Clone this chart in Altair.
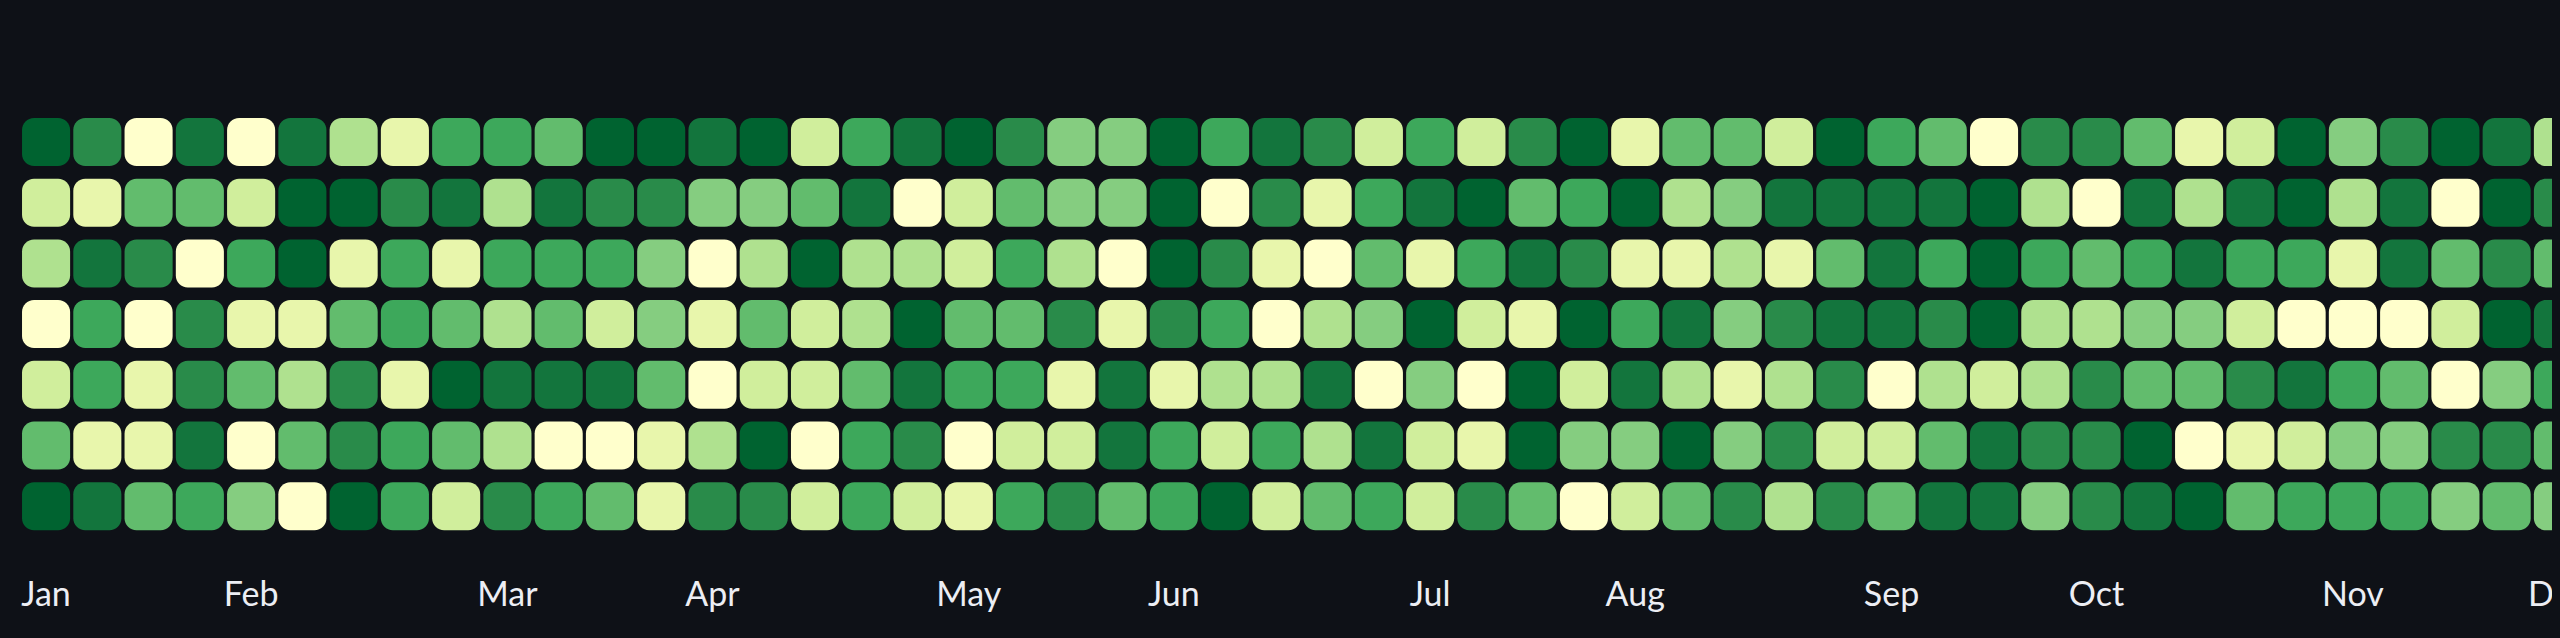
import altair as alt
import pandas as pd

row0 = [9,7,0,8,0,8,3,1,6,6,5,9,9,8,9,2,6,8,9,7,4,4,9,6,8,7,2,6,2,7,9,1,5,5,2,9,6,5,0,7,7,5,1,2,9,4,7,9,8,3]
row1 = [2,1,5,5,2,9,9,7,8,3,8,7,7,4,4,5,8,0,2,5,4,4,9,0,7,1,6,8,9,5,6,9,3,4,8,8,8,8,9,3,0,8,3,8,9,3,8,0,9,7]
row2 = [3,8,7,0,6,9,1,6,1,6,6,6,4,0,3,9,3,3,2,6,3,0,9,7,1,0,5,1,6,8,7,1,1,3,1,5,8,6,9,6,5,6,8,6,6,1,8,5,7,5]
row3 = [0,6,0,7,1,1,5,6,5,3,5,2,4,1,5,2,3,9,5,5,7,1,7,6,0,3,4,9,2,1,9,6,8,4,7,8,8,7,9,3,3,4,4,2,0,0,0,2,9,8]
row4 = [2,6,1,7,5,3,7,1,9,8,8,8,5,0,2,2,5,8,6,6,1,8,1,3,3,8,0,4,0,9,2,8,3,1,3,7,0,3,2,3,7,5,5,7,8,6,5,0,4,6]
row5 = [5,1,1,8,0,5,7,6,5,3,0,0,1,3,9,0,6,7,0,2,2,8,6,2,6,3,8,2,1,9,4,4,9,4,7,2,2,5,8,7,7,9,0,1,2,4,4,7,7,5]
row6 = [9,8,5,6,4,0,9,6,2,7,6,5,1,7,7,2,6,2,1,6,7,5,6,9,2,5,6,2,7,5,0,2,5,7,3,7,5,8,8,4,7,8,9,5,6,6,6,4,5,4]
rows = [row0, row1, row2, row3, row4, row5, row6]

levels = list(range(10))
palette = ["#ffffcc","#e8f6ac","#d0ee9c","#afe18f","#85cd80","#62bc6d","#3da85b","#298b4a","#13753d","#006330"]
month_names = ["Jan","Feb","Mar","Apr","May","Jun","Jul","Aug","Sep","Oct","Nov","Dec"]
month_weeks = [0,4,9,13,18,22,27,31,36,40,45,49]

df = pd.DataFrame([
    {"week": w, "day": d, "level": v}
    for d, r in enumerate(rows) for w, v in enumerate(r)
])

label_expr = "{" + ",".join(f"'{w}':'{m}'" for w, m in zip(month_weeks, month_names)) + "}[datum.value]"

page_css = (
    "html,body{background:#0e1117;overflow:hidden}"
    "#vis{display:block!important;width:auto!important}"
    "#vis svg{max-width:none!important;flex:none!important}"
)

chart = (
    alt.Chart(df)
    .mark_rect(cornerRadius=12)
    .encode(
        x=alt.X("week:O", title=None, sort=None,
                scale=alt.Scale(paddingInner=0.062, paddingOuter=0),
                axis=alt.Axis(values=month_weeks, labelExpr=label_expr, labelAngle=0,
                              domain=False, ticks=False, grid=False, labelFont="Lato",
                              labelFontSize=34, labelColor="#eceef4", labelPadding=75,
                              labelBaseline="alphabetic")),
        y=alt.Y("day:O", title=None, sort=None,
                scale=alt.Scale(paddingInner=0.209, paddingOuter=0),
                axis=None),
        color=alt.Color("level:O", legend=None,
                        scale=alt.Scale(domain=levels, range=palette)),
    )
    .properties(width=2560, height=412.2, background="#0e1117",
                padding={"left": 12, "top": 110, "right": 0, "bottom": 0})
    .configure_view(stroke=None)
)

chart.save("out.html", embed_options={"renderer": "svg", "actions": False, "defaultStyle": page_css})
